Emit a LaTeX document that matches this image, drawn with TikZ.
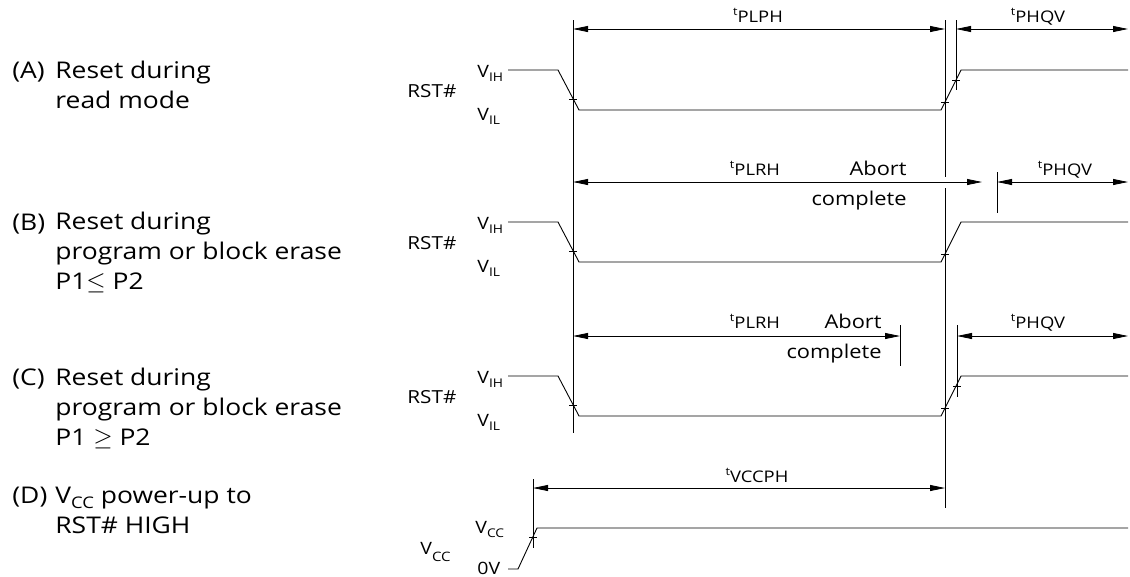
\documentclass[tikz,border=0pt]{standalone}
\usepackage{fontspec}
\setmainfont{Open Sans}[FakeStretch=1.15]
\usetikzlibrary{arrows.meta}

\newcommand{\tlab}[1]{\raisebox{6.5pt}{\fontsize{11}{11}\selectfont t}#1}
\newcommand{\vlev}[1]{V\raisebox{-4pt}{\fontsize{12}{12}\selectfont #1}}

\begin{document}
\begin{tikzpicture}[x=1pt,y=-1pt,line width=0.8pt,
    >={Triangle[length=15pt,width=6pt]},
    sig/.style={line width=0.9pt},
    dim/.style={<->},
    lbl/.style={font=\fontsize{23}{30}\selectfont,inner sep=0pt,anchor=base west},
    rst/.style={font=\fontsize{18}{18}\selectfont,inner sep=0pt,anchor=base west},
    lvl/.style={font=\fontsize{17}{17}\selectfont,inner sep=0pt,anchor=base west},
    tim/.style={font=\fontsize{16}{16}\selectfont,inner sep=0pt,anchor=base},
    abt/.style={font=\fontsize{19}{19}\selectfont,inner sep=0pt,anchor=base east}]

  \useasboundingbox (0,0) rectangle (1130,576);

  % left column (base of a multi-line node = its last line)
  \node[lbl] (A) at (12,78) {(A)};
  \node[lbl,align=left] (Atxt) at (55,108) {Reset during\\read mode};
  \node[lbl] (B) at (12,230) {(B)};
  \node[lbl,align=left] (Btxt) at (55,289) {Reset during\\program or block erase\\P1$\leq$ P2};
  \node[lbl] (C) at (12,385) {(C)};
  \node[lbl,align=left] (Ctxt) at (55,445) {Reset during\\program or block erase\\P1 $\geq$ P2};
  \node[lbl] (D) at (12,503) {(D)};
  \node[lbl,align=left] (Dtxt) at (55,533)
    {V\raisebox{-5pt}{\fontsize{16}{16}\selectfont CC} power-up to\\RST\# HIGH};

  % RST# waveforms
  \foreach \n/\dy in {A/0,B/152,C/306} {
    \begin{scope}[shift={(0,\dy)}]
      \node[rst] (rst\n) at (407,97) {RST\#};
      \node[lvl] (vih\n) at (477,77) {\vlev{IH}};
      \node[lvl] (vil\n) at (477,120) {\vlev{IL}};
      \draw[sig] (508,70) -- (558,70) -- (579,110) -- (941,110) -- (961,70) -- (1128,70);
      \draw (569,99) -- (577,99);
      \draw (941,102) -- (949,102);
    \end{scope}
  }
  \draw (952,80) -- (960,80);
  \draw (953,386) -- (961,386);

  % VCC waveform
  \node[lvl] (vcc) at (420,554) {V\raisebox{-7pt}{\fontsize{13}{13}\selectfont CC}};
  \node[lvl] (vcch) at (475,533) {\vlev{CC}};
  \node[lvl] (zero) at (477,574) {0V};
  \draw[sig] (508,569) -- (518,569) -- (537,528) -- (1128,528);
  \draw (529,537) -- (537,537);

  % reference lines
  \coordinate (fallT) at (573,20);   \coordinate (fallB) at (573,433);
  \coordinate (riseT) at (945,20);   \coordinate (riseB) at (945,508);
  \draw (fallT) -- (fallB);
  \draw (riseT) -- (945,177);
  \draw (945,188) -- (riseB);
  \draw (956,20) -- (956,90);
  \draw (997,172) -- (997,213);
  \draw (900,325) -- (900,366);
  \draw (957,325) -- (957,397);
  \draw (533,479) -- (533,548);

  % timing arrows
  \draw[dim] (573,29) -- (945,29);
  \draw[dim] (956,29) -- (1128,29);
  \node[tim] (tplph) at (758,22) {\tlab{PLPH}};
  \node[tim] (tphqvA) at (1038,22) {\tlab{PHQV}};

  \draw[dim] (573,182) -- (982,182);
  \draw[dim] (997,182) -- (1128,182);
  \node[tim] (tplrhB) at (755,175) {\tlab{PLRH}};
  \node[tim] (tphqvB) at (1065,175) {\tlab{PHQV}};
  \node[abt] (abortB) at (907,175) {Abort};
  \node[abt] (complB) at (907,205) {complete};

  \draw[dim] (573,336) -- (900,336);
  \draw[dim] (957,336) -- (1128,336);
  \node[tim] (tplrhC) at (755,328) {\tlab{PLRH}};
  \node[tim] (tphqvC) at (1038,328) {\tlab{PHQV}};
  \node[abt] (abortC) at (882,328) {Abort};
  \node[abt] (complC) at (882,358) {complete};

  \draw[dim] (533,488) -- (945,488);
  \node[tim] (tvccph) at (757,482) {\tlab{VCCPH}};
\end{tikzpicture}
\end{document}
